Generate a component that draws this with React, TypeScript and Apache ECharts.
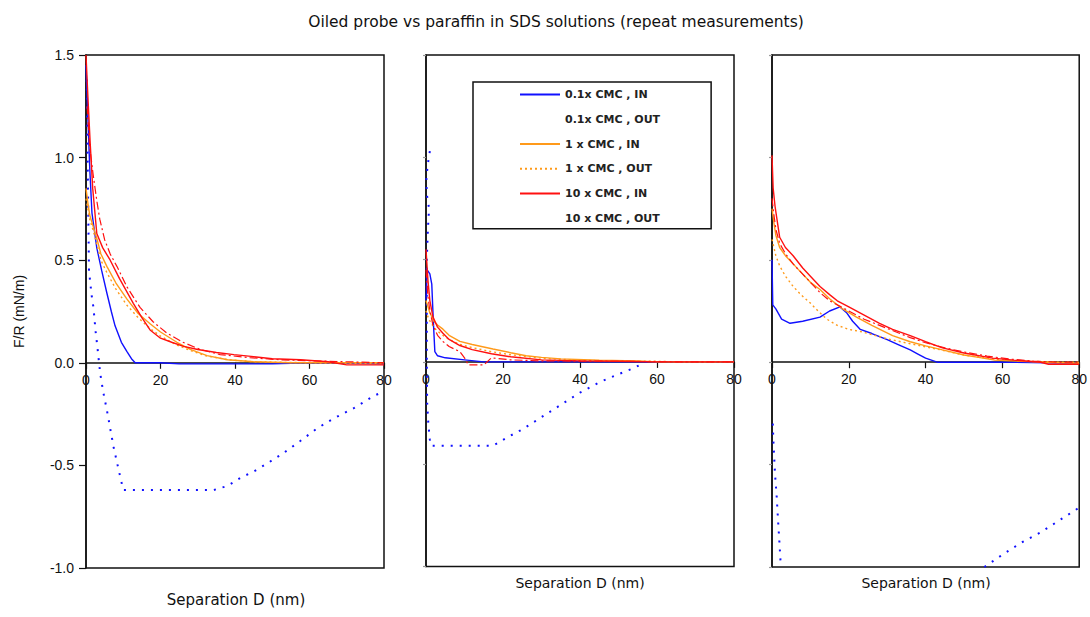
import React, { useEffect, useRef } from "react";
import * as echarts from "echarts";

type Pt = [number, number];

// Axis ticks shared by all three panels
const xTicks = [0, 20, 40, 60, 80];
const yTicks = [-1.0, -0.5, 0.0, 0.5, 1.0, 1.5];

const seriesNames = [
  "0.1x CMC , IN",
  "0.1x CMC , OUT",
  "1 x CMC , IN",
  "1 x CMC , OUT",
  "10 x CMC , IN",
  "10 x CMC , OUT",
];

// Panel 1
const p1BlueIn: Pt[] = [[0, 1.45], [0.5, 1.2], [1, 0.95], [1.6, 0.73], [2.9, 0.56], [4.2, 0.45], [5.6, 0.34], [6.8, 0.25], [7.8, 0.18], [9.5, 0.1], [11, 0.055], [12.2, 0.02], [13.2, 0.0], [20, 0.0], [25, -0.005], [50, -0.005], [60, 0], [80, -0.005]];
const p1BlueOut: Pt[] = [[0.2, 1.38], [0.3, 1.2], [0.5, 0.9], [0.8, 0.45], [1.5, 0.33], [2, 0.27], [2.6, 0.15], [3.1, 0.07], [3.8, -0.05], [4.6, -0.14], [5.6, -0.23], [6.5, -0.32], [7.4, -0.41], [8.5, -0.5], [10, -0.62], [20, -0.62], [34.3, -0.62], [38, -0.6], [41.5, -0.56], [45, -0.53], [48.7, -0.49], [53, -0.44], [57.6, -0.38], [62, -0.32], [66.6, -0.27], [72, -0.22], [77.4, -0.16], [80, -0.14]];
const p1OrangeIn: Pt[] = [[0, 0.85], [0.5, 0.78], [1, 0.72], [2, 0.66], [3, 0.6], [4, 0.53], [5.6, 0.47], [8, 0.39], [11, 0.31], [14, 0.24], [17.2, 0.19], [20, 0.15], [24.4, 0.1], [28, 0.065], [32.5, 0.035], [38, 0.015], [45, 0.005], [55, 0.0], [80, 0.0]];
const p1OrangeOut: Pt[] = [[0, 0.8], [0.5, 0.75], [1, 0.7], [2, 0.64], [3, 0.57], [4, 0.5], [5.6, 0.44], [8, 0.36], [11, 0.28], [14, 0.22], [17, 0.17], [20, 0.13], [24, 0.09], [28, 0.06], [32, 0.035], [38, 0.015], [45, 0.005], [60, 0.0], [80, -0.005]];
const p1RedIn: Pt[] = [[0, 1.5], [0.5, 1.3], [1.1, 1.08], [1.8, 0.85], [2.9, 0.63], [4.5, 0.56], [6.5, 0.5], [9, 0.41], [12.7, 0.29], [15, 0.22], [17.2, 0.16], [20, 0.12], [23, 0.1], [26.2, 0.08], [30, 0.065], [35, 0.05], [39.7, 0.04], [45, 0.03], [50, 0.02], [57.6, 0.015], [65, 0.005], [70, -0.01], [80, -0.01]];
const p1RedOut: Pt[] = [[0.3, 1.25], [1, 1.05], [1.9, 0.92], [2.9, 0.79], [3.7, 0.7], [5, 0.6], [6.5, 0.53], [8.3, 0.47], [11, 0.37], [14.5, 0.27], [18, 0.2], [21.7, 0.145], [26, 0.1], [30.7, 0.065], [36, 0.04], [44, 0.025], [52, 0.015], [60, 0.01], [70, 0.005], [80, 0.0]];

// Panel 2
const p2BlueIn: Pt[] = [[0, 0.3], [0.3, 0.45], [1, 0.43], [1.5, 0.38], [1.9, 0.2], [2.3, 0.05], [3, 0.03], [5, 0.02], [10, 0.01], [15, 0.0], [40, 0.0], [80, 0.0]];
const p2BlueOut: Pt[] = [[1.0, 1.03], [0.5, 0.97], [0.1, 0.9], [0.2, 0.82], [0.8, 0.75], [0.5, 0.65], [0.2, 0.5], [0.2, 0.25], [0.2, 0.0], [0.3, -0.2], [0.6, -0.3], [1, -0.38], [1.3, -0.41], [5, -0.41], [10, -0.41], [17.4, -0.41], [21, -0.37], [25, -0.33], [30, -0.27], [35, -0.21], [40, -0.15], [45, -0.1], [50, -0.06], [54, -0.03], [57, 0.0], [60, 0.0]];
const p2OrangeIn: Pt[] = [[0, 0.3], [0.5, 0.27], [1, 0.24], [2, 0.2], [3, 0.18], [4.4, 0.16], [6, 0.13], [8.8, 0.1], [12, 0.085], [17.4, 0.063], [22, 0.045], [26, 0.03], [30, 0.022], [35, 0.015], [45, 0.008], [55, 0.005], [60, 0.0], [80, 0.0]];
const p2OrangeOut: Pt[] = [[0, 0.25], [0.5, 0.22], [1, 0.2], [2, 0.17], [3, 0.15], [4.4, 0.13], [6, 0.11], [8.8, 0.085], [12, 0.07], [17, 0.05], [22, 0.035], [30, 0.018], [40, 0.008], [50, 0.004], [60, 0.003], [66, 0.0], [80, 0.0]];
const p2RedIn: Pt[] = [[0, 0.55], [0.5, 0.4], [1, 0.3], [1.8, 0.22], [3, 0.17], [4.4, 0.14], [6, 0.11], [8.8, 0.08], [12, 0.06], [17, 0.04], [22, 0.025], [30, 0.01], [40, 0.005], [50, 0.003], [60, 0.0], [80, 0.0]];
const p2RedOut: Pt[] = [[0, 0.45], [0.5, 0.32], [1, 0.25], [1.8, 0.18], [3, 0.13], [4.4, 0.1], [6, 0.075], [8.8, 0.05], [10, 0.02], [11, -0.015], [15, -0.015], [17, 0.02], [22, 0.01], [30, 0.005], [50, 0.003], [67, 0.0], [80, 0.0]];

// Panel 3
const p3BlueIn: Pt[] = [[0, 0.5], [0.2, 0.28], [1, 0.26], [2.5, 0.21], [4.7, 0.19], [8, 0.2], [12.5, 0.22], [15, 0.25], [17.7, 0.27], [19.5, 0.24], [21, 0.2], [23, 0.16], [26, 0.14], [30, 0.11], [33, 0.085], [36, 0.06], [38, 0.04], [40, 0.02], [43, 0.0], [60, 0.0], [80, -0.005]];
const p3BlueOutNear: Pt[] = [[0.2, -0.3], [0.4, -0.4], [0.8, -0.55], [1.2, -0.65], [1.6, -0.78], [2.0, -0.9], [2.3, -1.0]];
const p3BlueOutFar: Pt[] = [[55.3, -1.0], [60, -0.94], [65, -0.88], [70, -0.83], [75, -0.77], [80, -0.71]];
const p3OrangeIn: Pt[] = [[0, 0.75], [0.5, 0.68], [1, 0.62], [2, 0.56], [3.5, 0.52], [5.5, 0.48], [8, 0.43], [10, 0.39], [12.5, 0.355], [15, 0.31], [18.4, 0.26], [22, 0.22], [26, 0.18], [31.4, 0.13], [36, 0.1], [40, 0.08], [44.4, 0.06], [50, 0.035], [55, 0.02], [58, 0.01], [65, 0.005], [72, 0.0], [80, -0.005]];
const p3OrangeOut: Pt[] = [[0, 0.6], [1, 0.52], [2, 0.47], [3.5, 0.42], [5.5, 0.37], [7.5, 0.33], [9.9, 0.29], [12, 0.25], [14.3, 0.21], [17, 0.18], [20, 0.16], [23, 0.15], [27, 0.13], [31, 0.11], [36, 0.09], [40, 0.075], [44, 0.06], [50, 0.035], [58, 0.015], [66, 0.005], [75, 0.0], [80, 0.0]];
const p3RedIn: Pt[] = [[0, 1.01], [0.3, 0.85], [0.8, 0.76], [2, 0.61], [3.5, 0.56], [5.5, 0.52], [8, 0.46], [10, 0.42], [12.5, 0.37], [15, 0.33], [17, 0.3], [20, 0.27], [24, 0.23], [28, 0.19], [31.4, 0.16], [36, 0.13], [40, 0.1], [44.4, 0.07], [50, 0.045], [57.4, 0.02], [63, 0.01], [70, 0.0], [72, -0.01], [80, -0.01]];
const p3RedOut: Pt[] = [[0, 0.8], [0.5, 0.72], [1, 0.65], [2, 0.58], [3.5, 0.53], [5.5, 0.48], [8, 0.43], [10, 0.39], [12.5, 0.34], [15, 0.3], [18, 0.27], [20, 0.25], [24, 0.21], [28, 0.18], [32, 0.15], [36, 0.12], [40, 0.095], [45, 0.07], [50, 0.05], [56, 0.03], [62, 0.015], [68, 0.005], [75, 0.0], [80, 0.0]];

const BLUE = "#1010ff";
const ORANGE = "#ff9a1a";
const RED = "#ff1010";
const FONT = "'Liberation Sans', Arial, sans-serif";
const WIDE = "'DejaVu Sans', sans-serif";

const lineStyles: Record<string, any> = {
  "0.1x CMC , IN": { color: BLUE, width: 1.4, type: "solid" },
  "0.1x CMC , OUT": { color: BLUE, width: 2, type: [2, 7] },
  "1 x CMC , IN": { color: ORANGE, width: 1.4, type: "solid" },
  "1 x CMC , OUT": { color: ORANGE, width: 1.4, type: [2, 3] },
  "10 x CMC , IN": { color: RED, width: 1.4, type: "solid" },
  "10 x CMC , OUT": { color: RED, width: 1.2, type: [8, 3, 2, 3] },
};

const panels: { name: string; data: (Pt | string)[] }[][] = [
  [
    { name: seriesNames[1], data: p1BlueOut },
    { name: seriesNames[0], data: p1BlueIn },
    { name: seriesNames[3], data: p1OrangeOut },
    { name: seriesNames[2], data: p1OrangeIn },
    { name: seriesNames[5], data: p1RedOut },
    { name: seriesNames[4], data: p1RedIn },
  ],
  [
    { name: seriesNames[1], data: p2BlueOut },
    { name: seriesNames[0], data: p2BlueIn },
    { name: seriesNames[3], data: p2OrangeOut },
    { name: seriesNames[2], data: p2OrangeIn },
    { name: seriesNames[5], data: p2RedOut },
    { name: seriesNames[4], data: p2RedIn },
  ],
  [
    { name: seriesNames[1], data: [...p3BlueOutNear, "-", ...p3BlueOutFar] },
    { name: seriesNames[0], data: p3BlueIn },
    { name: seriesNames[3], data: p3OrangeOut },
    { name: seriesNames[2], data: p3OrangeIn },
    { name: seriesNames[5], data: p3RedOut },
    { name: seriesNames[4], data: p3RedIn },
  ],
];

const grids = [
  { left: 86, top: 55, width: 298, height: 513 },
  { left: 426, top: 55, width: 308, height: 511.5 },
  { left: 772, top: 55, width: 308, height: 512 },
];

const xTitles = [
  { x: 236, y: 600, size: 15 },
  { x: 580, y: 583, size: 14 },
  { x: 926, y: 583, size: 14 },
];

export default function App() {
  const ref = useRef<HTMLDivElement>(null);

  useEffect(() => {
    if (!ref.current) return;
    const chart = echarts.init(ref.current, undefined, { renderer: "svg" });

    const series: any[] = [];
    panels.forEach((list, gi) => {
      list.forEach((s) => {
        series.push({
          type: "line",
          name: s.name,
          xAxisIndex: gi,
          yAxisIndex: gi,
          data: s.data,
          showSymbol: false,
          symbol: "none",
          connectNulls: false,
          lineStyle: lineStyles[s.name],
          itemStyle: { color: lineStyles[s.name].color },
          clip: true,
        });
      });
    });

    const blank = (n: string) => n === seriesNames[1] || n === seriesNames[5];
    const yMin = yTicks[0];
    const yMax = yTicks[yTicks.length - 1];

    chart.setOption({
      animation: false,
      backgroundColor: "#fff",
      title: {
        text: "Oiled probe vs paraffin in SDS solutions (repeat measurements)",
        left: 551,
        top: 9,
        textAlign: "center",
        textStyle: { fontFamily: WIDE, fontSize: 15.5, fontWeight: "normal", color: "#111" },
      },
      legend: {
        orient: "vertical",
        left: 473,
        top: 82,
        itemWidth: 40,
        itemHeight: 14,
        itemGap: 13.5,
        padding: [7, 51, 5, 46],
        borderColor: "#111",
        borderWidth: 1.5,
        backgroundColor: "#fff",
        selectedMode: false,
        textStyle: { fontFamily: WIDE, fontSize: 11, fontWeight: "bold", color: "#222" },
        data: seriesNames.map((n) =>
          blank(n)
            ? { name: n, lineStyle: { opacity: 0 }, itemStyle: { opacity: 0 } }
            : { name: n, itemStyle: { opacity: 0 } }
        ),
      },
      grid: grids.map((g) => ({
        ...g,
        show: true,
        borderColor: "#111",
        borderWidth: 1.5,
        backgroundColor: "transparent",
        containLabel: false,
      })),
      // x axes sit on the zero line of each panel
      xAxis: grids.map((g, gi) => ({
        type: "value",
        gridIndex: gi,
        min: xTicks[0],
        max: xTicks[xTicks.length - 1],
        interval: xTicks[1] - xTicks[0],
        position: "bottom",
        offset: -(g.height * (0 - yMin)) / (yMax - yMin),
        axisLine: { show: true, onZero: false, lineStyle: { color: "#111", width: 1.5 } },
        axisTick: { show: true, length: 6, lineStyle: { color: "#111", width: 1.2 } },
        axisLabel: { color: "#111", fontFamily: FONT, fontSize: 14, margin: 10 },
        splitLine: { show: false },
      })),
      yAxis: grids.map((_, gi) => ({
        type: "value",
        gridIndex: gi,
        min: yMin,
        max: yMax,
        interval: 0.5,
        name: gi === 0 ? "F/R (mN/m)" : "",
        nameLocation: "middle",
        nameGap: 60,
        nameTextStyle: { fontFamily: FONT, fontSize: 14, color: "#111" },
        axisLine: { show: true, onZero: false, lineStyle: { color: "#111", width: 1.5 } },
        axisTick: {
          show: true,
          length: gi === 0 ? 7 : 3,
          lineStyle: { color: gi === 0 ? "#111" : "#999", width: 1.2 },
        },
        axisLabel: {
          show: gi === 0,
          color: "#111",
          fontFamily: FONT,
          fontSize: 14,
          margin: 12,
          formatter: (v: number) => v.toFixed(1),
        },
        splitLine: { show: false },
      })),
      graphic: xTitles.map((t) => ({
        type: "text",
        x: t.x,
        y: t.y,
        style: {
          text: "Separation D (nm)",
          fontFamily: WIDE,
          fontSize: t.size,
          fill: "#111",
          textAlign: "center",
          textVerticalAlign: "middle",
        },
      })),
      series,
    });

    return () => chart.dispose();
  }, []);

  return (
    <div
      ref={ref}
      style={{ position: "absolute", left: 0, top: 0, width: 1090, height: 617 }}
    />
  );
}
